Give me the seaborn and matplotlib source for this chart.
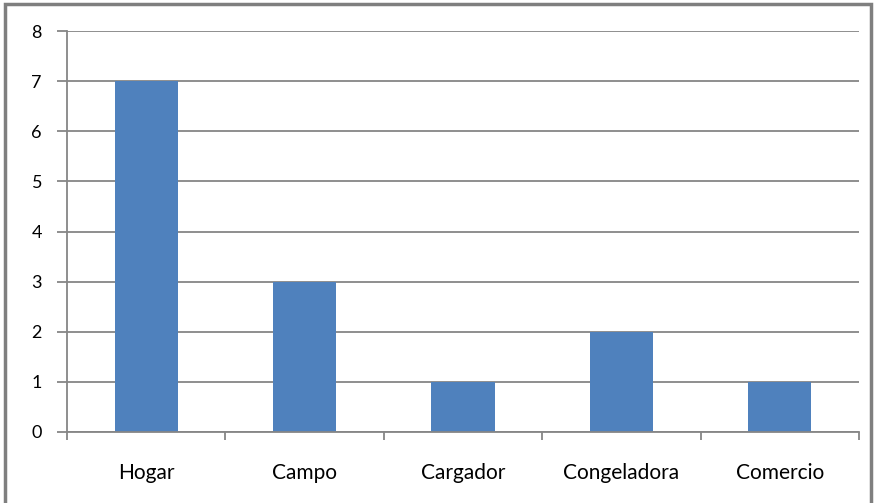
import matplotlib
matplotlib.use("Agg")
import matplotlib.pyplot as plt
import matplotlib.patches as mpatches
from matplotlib.ticker import FixedLocator
import seaborn as sns
import pandas as pd

categories = ["Hogar", "Campo", "Cargador", "Congeladora", "Comercio"]
values = [7, 3, 1, 2, 1]
yticks = [0, 1, 2, 3, 4, 5, 6, 7, 8]

sns.set_theme(style="white")
plt.rcParams['font.family'] = ['Lato', 'DejaVu Sans']

df = pd.DataFrame({"cat": categories, "val": values})

fig = plt.figure(figsize=(8.74, 5.03), dpi=100)
ax = fig.add_axes([67/874, 71/503, 792/874, 401/503])
sns.barplot(data=df, x="cat", y="val", order=categories, color="#4F81BD",
            saturation=1, width=0.4, linewidth=0, ax=ax)

grid_c = "#868686"
ax.set_xlim(-0.5, len(categories) - 0.5)
ax.set_ylim(0, 8)
ax.set_yticks(yticks)
ax.set_yticklabels([str(t) for t in yticks], fontsize=13, color="black")
ax.yaxis.grid(True, color=grid_c, linewidth=1.3)
ax.set_axisbelow(True)
ax.tick_params(axis="y", length=7, width=1.3, color=grid_c, pad=11, left=True)

ax.set_xticks(range(len(categories)))
ax.set_xticklabels(categories, fontsize=15, color="black")
ax.tick_params(axis="x", which="major", length=0, pad=22)
ax.xaxis.set_minor_locator(FixedLocator([i - 0.5 for i in range(len(categories) + 1)]))
ax.tick_params(axis="x", which="minor", length=6, width=1.3, color=grid_c, bottom=True)

ax.set_xlabel("")
ax.set_ylabel("")
for s in ["top", "right"]:
    ax.spines[s].set_visible(False)
for s in ["left", "bottom"]:
    ax.spines[s].set_color(grid_c)
    ax.spines[s].set_linewidth(1.3)

border = mpatches.Rectangle((5/874, -0.05), 866/874, 1.05 - 4/503,
                            transform=fig.transFigure, fill=False,
                            edgecolor="#7f7f7f", linewidth=2.5)
fig.patches.append(border)

fig.savefig("out.png", dpi=100)
